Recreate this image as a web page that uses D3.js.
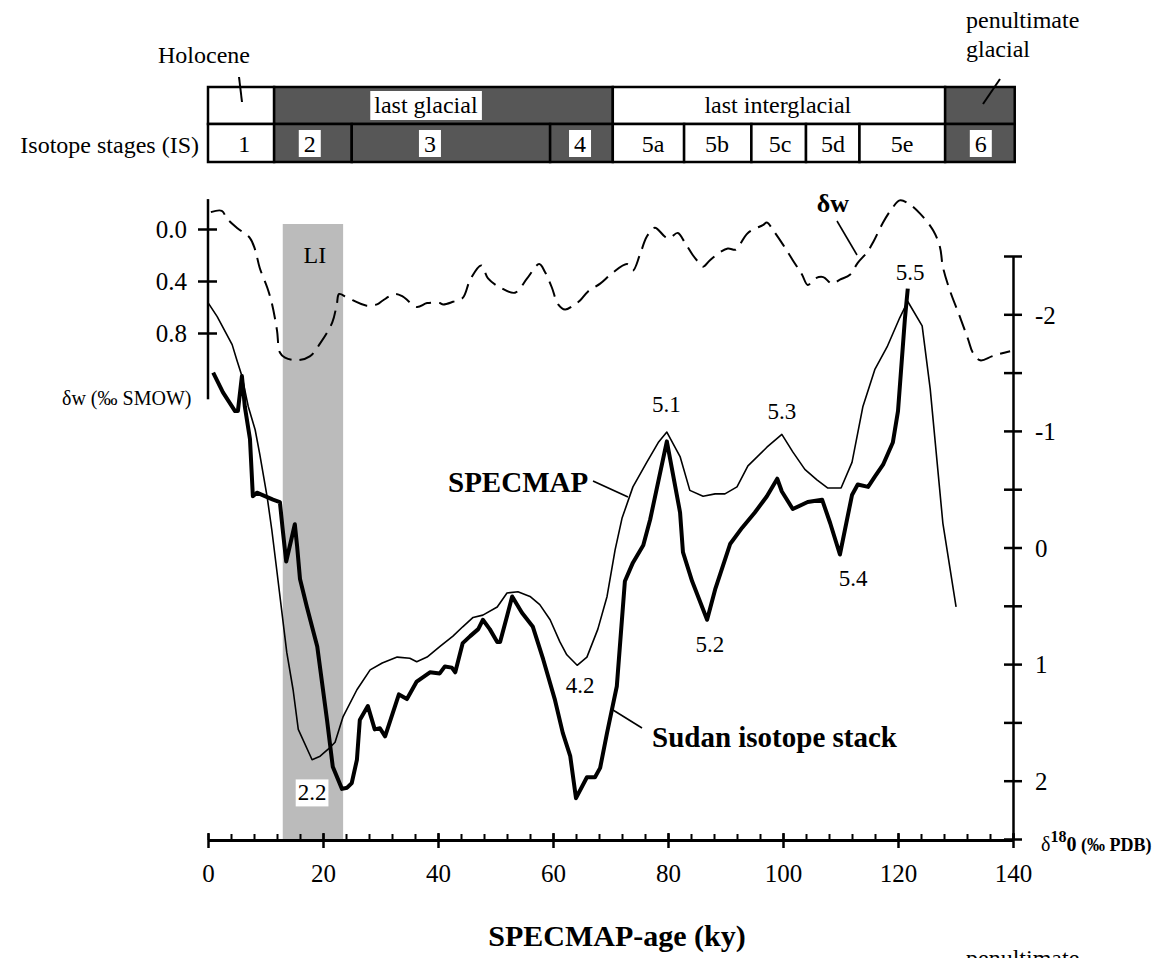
<!DOCTYPE html>
<html><head><meta charset="utf-8">
<script src="https://cdn.jsdelivr.net/npm/d3@7"></script>
<style>
body{margin:0;background:#fff;overflow:hidden}
svg{display:block}
text{font-family:"Liberation Serif","Times New Roman",serif;fill:#000}
</style>
</head><body><svg id="c" width="1175" height="958"></svg>
<script>
// ---- data (age in ky, values) ----
const specmap = [[0,-2.10],[1.6,-1.98],[4.2,-1.74],[5.0,-1.61],[5.9,-1.47],[7.0,-1.21],[8.2,-1.01],[9.0,-0.80],[10.3,-0.43],[11.1,-0.15],[12.0,0.21],[13.7,0.90],[14.8,1.22],[15.7,1.56],[18.1,1.82],[19.5,1.79],[20.9,1.73],[22.1,1.67],[23.5,1.45],[25.9,1.22],[28.2,1.05],[30.3,0.99],[32.9,0.94],[35.1,0.95],[36.3,0.98],[38.1,0.94],[40.3,0.85],[42.6,0.76],[44.3,0.68],[46.1,0.60],[47.8,0.58],[50.3,0.51],[52.0,0.39],[53.9,0.38],[56.0,0.42],[57.7,0.49],[59.5,0.62],[61.2,0.81],[62.4,0.92],[64.2,1.01],[65.9,0.94],[67.8,0.70],[69.4,0.42],[70.8,0.02],[72.0,-0.25],[73.9,-0.52],[76.3,-0.73],[78.3,-0.90],[79.8,-0.99],[82.1,-0.78],[83.8,-0.49],[86.1,-0.44],[88.2,-0.46],[89.9,-0.46],[92.0,-0.52],[93.9,-0.70],[97.2,-0.86],[99.8,-0.97],[101.7,-0.82],[103.8,-0.67],[105.9,-0.58],[107.8,-0.51],[110.1,-0.51],[112.0,-0.73],[113.9,-1.21],[116.0,-1.53],[118.1,-1.72],[120.3,-1.97],[121.7,-2.11],[124.2,-1.90],[125.6,-1.36],[127.8,-0.21],[130.1,0.51]];
const sudan = [[0.9,-1.50],[2.6,-1.33],[4.7,-1.17],[5.2,-1.17],[5.9,-1.47],[6.4,-1.21],[7.3,-0.93],[7.8,-0.44],[8.5,-0.47],[9.9,-0.44],[11.3,-0.41],[12.5,-0.39],[13.0,-0.15],[13.6,0.12],[15.1,-0.20],[15.5,-0.01],[16.0,0.27],[17.2,0.51],[19.0,0.85],[20.7,1.48],[21.7,1.88],[23.3,2.07],[24.2,2.06],[25.0,2.02],[25.9,1.82],[26.4,1.48],[27.8,1.36],[29.0,1.56],[29.9,1.55],[30.8,1.62],[33.2,1.26],[34.6,1.30],[36.3,1.15],[38.6,1.07],[40.3,1.08],[41.2,1.02],[42.4,1.03],[43.0,1.07],[44.3,0.82],[45.6,0.76],[47.0,0.70],[47.8,0.62],[49.0,0.70],[50.3,0.81],[50.8,0.81],[52.0,0.59],[52.9,0.42],[54.6,0.56],[56.5,0.68],[58.3,0.96],[60.3,1.30],[61.7,1.59],[63.0,1.79],[64.0,2.15],[65.9,1.97],[67.3,1.97],[68.2,1.89],[69.4,1.59],[71.1,1.19],[72.5,0.29],[73.9,0.13],[75.7,-0.02],[76.9,-0.24],[79.8,-0.91],[82.1,-0.30],[82.6,0.04],[84.2,0.29],[86.8,0.62],[88.2,0.36],[90.8,-0.03],[92.9,-0.17],[95.1,-0.30],[97.2,-0.44],[99.0,-0.59],[99.8,-0.48],[101.7,-0.33],[104.3,-0.39],[106.8,-0.41],[108.2,-0.21],[109.9,0.06],[112.0,-0.45],[113.0,-0.54],[114.8,-0.52],[116.0,-0.61],[117.4,-0.71],[119.1,-0.90],[120.0,-1.17],[121.2,-1.96],[121.7,-2.22]];
const deltaW = [[0.5,-0.13],[2.4,-0.14],[3.3,-0.08],[5.0,-0.01],[7.3,0.07],[8.2,0.16],[9.0,0.30],[10.3,0.45],[11.1,0.57],[12.0,0.78],[12.5,0.95],[13.4,0.99],[15.5,1.01],[17.7,0.98],[19.5,0.88],[21.6,0.72],[22.4,0.58],[22.8,0.50],[24.3,0.53],[27.6,0.59],[29.4,0.58],[30.4,0.55],[32.5,0.50],[33.9,0.52],[36.3,0.60],[38.1,0.57],[40.3,0.57],[40.9,0.58],[42.6,0.56],[44.3,0.53],[45.6,0.39],[47.5,0.28],[48.7,0.38],[50.8,0.45],[53.4,0.49],[55.5,0.38],[57.6,0.27],[58.6,0.33],[59.8,0.45],[60.9,0.58],[62.1,0.62],[63.8,0.58],[64.7,0.55],[66.1,0.48],[68.2,0.42],[70.3,0.34],[72.9,0.27],[73.9,0.32],[75.1,0.20],[76.3,0.06],[77.7,-0.01],[79.5,0.06],[80.3,0.07],[81.7,0.03],[83.0,0.11],[84.3,0.20],[85.2,0.25],[86.1,0.29],[87.3,0.24],[89.0,0.18],[90.4,0.15],[91.7,0.16],[92.2,0.14],[93.9,0.03],[96.5,-0.03],[97.2,-0.05],[98.3,0.01],[100.0,0.12],[101.7,0.24],[103.3,0.35],[104.3,0.43],[105.6,0.38],[107.0,0.37],[108.5,0.42],[109.9,0.39],[111.7,0.35],[113.0,0.26],[114.6,0.18],[115.7,0.10],[117.4,-0.05],[119.0,-0.16],[120.3,-0.22],[121.7,-0.20],[123.8,-0.12],[126.1,0.01],[127.3,0.14],[127.8,0.29],[129.0,0.47],[130.8,0.68],[132.2,0.85],[133.0,0.95],[134.3,1.01],[136.3,0.98],[137.7,0.96],[139.5,0.94]];

const xTicks = [0,20,40,60,80,100,120,140];
const xMinorTicks = d3.range(0,141,4);
const rightTicks = [-2.5,-2,-1.5,-1,-0.5,0,0.5,1,1.5,2,2.5];
const rightTickLabels = [-2,-1,0,1,2];
const leftTicks = [0,0.4,0.8];

const stageNames = ["1","2","3","4","5a","5b","5c","5d","5e","6"];
const stageBounds = [0,11.5,25.0,59.5,70.4,82.8,94.5,104.0,113.3,128.2,140.3];
const stageLabelAge = [6.3,17.7,38.6,64.7,77.4,88.5,99.5,108.7,120.7,134.4];
const stageDark = [false,true,true,true,false,false,false,false,false,true];
const periodNames = ["","last glacial","last interglacial",""];
const periodBounds = [0,11.5,70.4,128.2,140.3];
const periodLabelAge = [0,37.9,99.1,0];
const periodDark = [false,true,false,true];

const peakLabels = [["5.1",79.7,-1.23],["5.3",99.8,-1.17],["5.2",87.3,0.83],["5.4",112.2,0.26],["5.5",122.1,-2.36],["4.2",64.7,1.18],["2.2",18.1,2.10]];
const liBand = [13.0,23.5];

// ---- scales ----
const x = d3.scaleLinear().domain([0,140]).range([208,1013]);
const yR = d3.scaleLinear().domain([-2.5,2.5]).range([256,839]);
const yL = d3.scaleLinear().domain([0,0.8]).range([229,333]);
const axisY = 840;

const svg = d3.select("#c");

// LI band
svg.append("rect").attr("x",x(liBand[0])).attr("y",224).attr("width",x(liBand[1])-x(liBand[0])).attr("height",axisY-224).attr("fill","#bbbbbb");
svg.append("text").attr("x",(x(liBand[0])+x(liBand[1]))/2+2).attr("y",263).attr("text-anchor","middle").attr("font-size",24).text("LI");

// ---- top band ----
const rowTop = 87, rowMid = 124, rowBot = 162;
const band = svg.append("g");
periodNames.forEach((n,i)=>{
  band.append("rect").attr("x",x(periodBounds[i])).attr("y",rowTop).attr("width",x(periodBounds[i+1])-x(periodBounds[i])).attr("height",rowMid-rowTop)
    .attr("fill",periodDark[i]?"#575757":"#fff").attr("stroke","#000").attr("stroke-width",2.5);
});
stageNames.forEach((n,i)=>{
  band.append("rect").attr("x",x(stageBounds[i])).attr("y",rowMid).attr("width",x(stageBounds[i+1])-x(stageBounds[i])).attr("height",rowBot-rowMid)
    .attr("fill",stageDark[i]?"#575757":"#fff").attr("stroke","#000").attr("stroke-width",2.5);
});
periodNames.forEach((n,i)=>{
  if(!n) return;
  const t = band.append("text").attr("x",x(periodLabelAge[i])).attr("y",113).attr("text-anchor","middle").attr("font-size",24).text(n);
  if(periodDark[i]){
    const b = t.node().getBBox();
    band.insert("rect","text").attr("x",b.x-4).attr("y",rowTop+4).attr("width",b.width+8).attr("height",rowMid-rowTop-8).attr("fill","#fff");
  }
});
stageNames.forEach((n,i)=>{
  const cx = x(stageLabelAge[i]);
  if(stageDark[i]){
    band.append("rect").attr("x",cx-11).attr("y",rowMid+6).attr("width",22).attr("height",rowBot-rowMid-11).attr("fill","#fff");
  }
  band.append("text").attr("x",cx).attr("y",152).attr("text-anchor","middle").attr("font-size",24).text(n);
});
svg.append("text").attr("x",199).attr("y",153).attr("text-anchor","end").attr("font-size",24).text("Isotope stages (IS)");
svg.append("text").attr("x",204).attr("y",63).attr("text-anchor","middle").attr("font-size",24).text("Holocene");
svg.append("line").attr("x1",239).attr("y1",77).attr("x2",242).attr("y2",102).attr("stroke","#000").attr("stroke-width",2);
svg.append("text").attr("x",966).attr("y",28).attr("font-size",24).text("penultimate");
svg.append("text").attr("x",966).attr("y",57).attr("font-size",24).text("glacial");
svg.append("line").attr("x1",1000).attr("y1",79).attr("x2",983).attr("y2",104).attr("stroke","#000").attr("stroke-width",2);
// stray duplicate label cut off at the bottom edge of the reference
svg.append("text").attr("x",966).attr("y",966).attr("font-size",24).text("penultimate");

// ---- curves ----
const lineR = d3.line().x(d=>x(d[0])).y(d=>yR(d[1]));
const lineL = d3.line().x(d=>x(d[0])).y(d=>yL(d[1])).curve(d3.curveCatmullRom);
svg.append("path").attr("d",lineL(deltaW)).attr("fill","none").attr("stroke","#000").attr("stroke-width",2).attr("stroke-dasharray","16,8");
svg.append("path").attr("d",lineR(specmap)).attr("fill","none").attr("stroke","#000").attr("stroke-width",1.6).attr("stroke-linejoin","round");
svg.append("path").attr("d",lineR(sudan)).attr("fill","none").attr("stroke","#000").attr("stroke-width",4).attr("stroke-linejoin","round");

// ---- axes ----
// bottom
const gx = svg.append("g").attr("transform",`translate(0,${axisY})`);
gx.call(d3.axisBottom(x).tickValues(xMinorTicks).tickSize(0).tickFormat(""));
gx.selectAll(".tick line").attr("y1",-6).attr("y2",0).attr("stroke","#000").attr("stroke-width",2);
gx.select(".domain").remove();
const gx2 = svg.append("g").attr("transform",`translate(0,${axisY})`);
gx2.call(d3.axisBottom(x).tickValues(xTicks).tickSize(0).tickFormat(d=>String(d)));
gx2.select(".domain").attr("stroke","#000").attr("stroke-width",3);
gx2.selectAll(".tick line").attr("y1",-7).attr("y2",8).attr("stroke","#000").attr("stroke-width",2.5);
gx2.selectAll(".tick text").attr("y",42).attr("dy",0).attr("font-size",25).attr("font-family","Liberation Serif").attr("fill","#000");
svg.append("text").attr("x",617).attr("y",946).attr("text-anchor","middle").attr("font-size",30).attr("font-weight","bold").text("SPECMAP-age (ky)");

// right
const gr = svg.append("g").attr("transform",`translate(${x(140)},0)`);
gr.call(d3.axisRight(yR).tickValues(rightTicks).tickSize(0).tickFormat(d=>rightTickLabels.includes(d)?String(d):""));
gr.select(".domain").attr("stroke","#000").attr("stroke-width",2.5);
gr.selectAll(".tick line").attr("x1",-9).attr("x2",9).attr("stroke","#000").attr("stroke-width",2.5);
gr.selectAll(".tick text").attr("x",22).attr("dy","0.35em").attr("font-size",25).attr("font-family","Liberation Serif").attr("fill","#000");
const rl = svg.append("text").attr("x",1041).attr("y",851);
rl.append("tspan").attr("font-size",20).text("δ");
rl.append("tspan").attr("font-size",16).attr("font-weight","bold").attr("dy",-9).text("18");
rl.append("tspan").attr("font-size",20).attr("font-weight","bold").attr("dy",9).text("0");
rl.append("tspan").attr("font-size",18).attr("font-weight","bold").text(" (‰ PDB)");

// left
const gl = svg.append("g").attr("transform",`translate(${x(0)},0)`);
gl.call(d3.axisLeft(yL).tickValues(leftTicks).tickSize(0).tickFormat(d3.format(".1f")));
gl.select(".domain").attr("d",`M0,${yL(-0.23)}V${yL(1.31)}`).attr("stroke","#000").attr("stroke-width",2.5);
gl.selectAll(".tick line").attr("x1",-10).attr("x2",9).attr("stroke","#000").attr("stroke-width",2.5);
gl.selectAll(".tick text").attr("x",-21).attr("dy","0.35em").attr("font-size",25).attr("font-family","Liberation Serif").attr("fill","#000");
svg.append("text").attr("x",62).attr("y",405).attr("font-size",20).text("δw (‰ SMOW)");

// ---- annotations ----
peakLabels.forEach(([t,a,v])=>{
  const tx = svg.append("text").attr("x",x(a)).attr("y",yR(v)).attr("dy","0.35em").attr("text-anchor","middle").attr("font-size",23).text(t);
  if(t==="2.2"){
    const b = tx.node().getBBox();
    svg.insert("rect",()=>tx.node()).attr("x",b.x-2).attr("y",b.y-1).attr("width",b.width+4).attr("height",b.height+2).attr("fill","#fff");
  }
});
svg.append("text").attr("x",448).attr("y",492).attr("font-size",29).attr("font-weight","bold").text("SPECMAP");
svg.append("line").attr("x1",593).attr("y1",481).attr("x2",628).attr("y2",497).attr("stroke","#000").attr("stroke-width",1.6);
svg.append("text").attr("x",652).attr("y",747).attr("font-size",29).attr("font-weight","bold").text("Sudan isotope stack");
svg.append("line").attr("x1",613).attr("y1",710).attr("x2",642).attr("y2",728).attr("stroke","#000").attr("stroke-width",1.6);
svg.append("text").attr("x",833).attr("y",212).attr("text-anchor","middle").attr("font-size",26).attr("font-weight","bold").text("δw");
svg.append("line").attr("x1",837).attr("y1",221).attr("x2",857).attr("y2",255).attr("stroke","#000").attr("stroke-width",1.6);
</script></body></html>
